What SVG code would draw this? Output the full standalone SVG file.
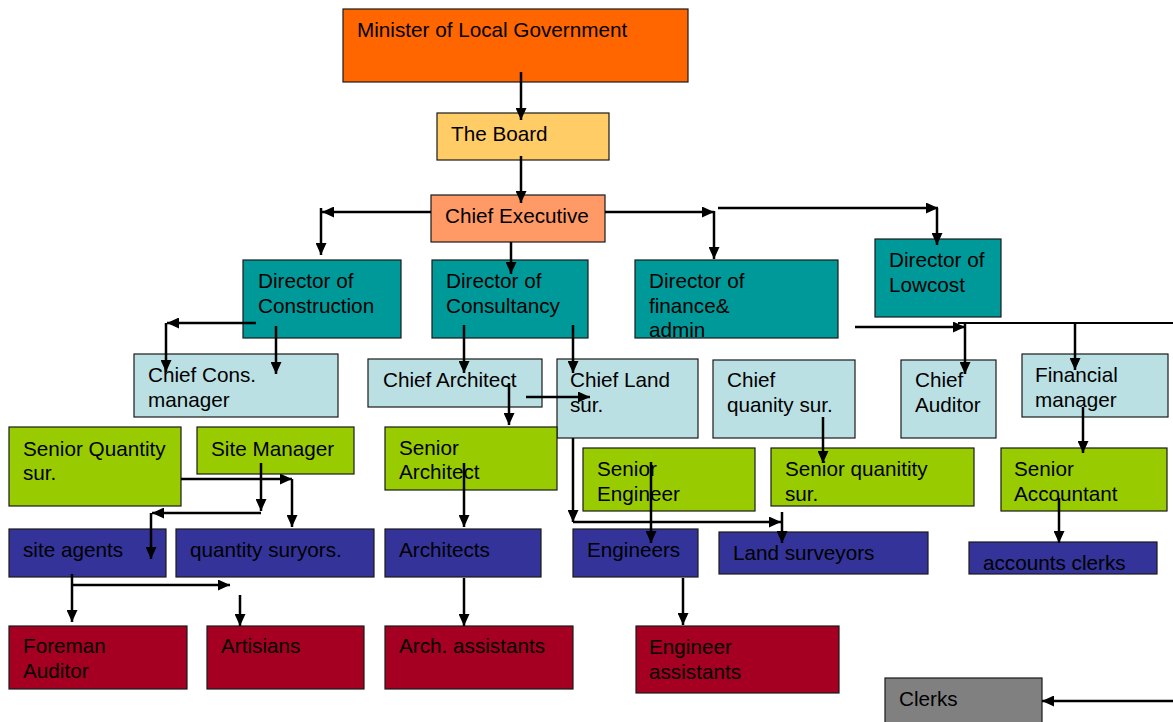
<svg xmlns="http://www.w3.org/2000/svg" width="1173" height="722" viewBox="0 0 1173 722">
<defs>
<style>
rect{stroke:#1a1a1a;stroke-width:1.2}
text{font-family:"Liberation Sans",Arial,sans-serif;font-size:20.7px;fill:#000}
.orange{fill:#FF6600}.board{fill:#FFCC66}.ce{fill:#FF9966}
.teal{fill:#009999}.light{fill:#BBE0E3}.lime{fill:#99CC00}
.blue{fill:#333399}.red{fill:#A50021}.gray{fill:#808080}
#connectors path{fill:none;stroke:#000;stroke-width:2.5;marker-end:url(#ah)}
#connectors path.plain{marker-end:none;stroke-width:2}
</style>
<marker id="ah" markerUnits="userSpaceOnUse" markerWidth="12" markerHeight="11" refX="12" refY="5.5" orient="auto">
<path d="M0,0 L12,5.5 L0,11 z" fill="#000"/>
</marker>
</defs>
<rect x="0" y="0" width="1173" height="722" fill="#fff" style="stroke:none"/>
<g id="nodes">
<g id="minister"><rect class="orange" x="343" y="9" width="345" height="73"/><text x="357" y="37">Minister of Local Government</text></g>
<g id="board"><rect class="board" x="437" y="113" width="172" height="47"/><text x="451" y="141">The Board</text></g>
<g id="chief-executive"><rect class="ce" x="431" y="195" width="174" height="47"/><text x="445" y="223">Chief Executive</text></g>
<g id="dir-construction"><rect class="teal" x="243" y="260" width="158" height="78"/><text x="258" y="288">Director of<tspan x="258" y="313">Construction</tspan></text></g>
<g id="dir-consultancy"><rect class="teal" x="432" y="260" width="156" height="78"/><text x="446" y="288">Director of<tspan x="446" y="313">Consultancy</tspan></text></g>
<g id="dir-finance"><rect class="teal" x="635" y="260" width="203" height="78"/><text x="649" y="288">Director of<tspan x="649" y="313">finance&amp;</tspan><tspan x="649" y="337">admin</tspan></text></g>
<g id="dir-lowcost"><rect class="teal" x="875" y="239" width="126" height="78"/><text x="889" y="267">Director of<tspan x="889" y="292">Lowcost</tspan></text></g>
<g id="chief-cons"><rect class="light" x="134" y="354" width="204" height="63"/><text x="148" y="382">Chief Cons.<tspan x="148" y="407">manager</tspan></text></g>
<g id="chief-architect"><rect class="light" x="368" y="359" width="174" height="48"/><text x="383" y="387">Chief Architect</text></g>
<g id="chief-land"><rect class="light" x="557" y="359" width="141" height="79"/><text x="570" y="387">Chief Land<tspan x="570" y="412">sur.</tspan></text></g>
<g id="chief-quanity"><rect class="light" x="713" y="360" width="142" height="78"/><text x="727" y="387">Chief<tspan x="727" y="412">quanity sur.</tspan></text></g>
<g id="chief-auditor"><rect class="light" x="901" y="360" width="95" height="78"/><text x="915" y="387">Chief<tspan x="915" y="412">Auditor</tspan></text></g>
<g id="financial-manager"><rect class="light" x="1022" y="354" width="146" height="63"/><text x="1035" y="382">Financial<tspan x="1035" y="407">manager</tspan></text></g>
<g id="senior-quantity"><rect class="lime" x="9" y="427" width="172" height="79"/><text x="23" y="456">Senior Quantity<tspan x="23" y="480">sur.</tspan></text></g>
<g id="site-manager"><rect class="lime" x="197" y="427" width="157" height="47"/><text x="211" y="456">Site Manager</text></g>
<g id="senior-architect"><rect class="lime" x="385" y="427" width="172" height="63"/><text x="399" y="455">Senior<tspan x="399" y="479">Architect</tspan></text></g>
<g id="senior-engineer"><rect class="lime" x="583" y="448" width="172" height="63"/><text x="597" y="476">Senior<tspan x="597" y="501">Engineer</tspan></text></g>
<g id="senior-quanitity"><rect class="lime" x="771" y="448" width="203" height="58"/><text x="785" y="476">Senior quanitity<tspan x="785" y="501">sur.</tspan></text></g>
<g id="senior-accountant"><rect class="lime" x="1001" y="448" width="166" height="63"/><text x="1014" y="476">Senior<tspan x="1014" y="501">Accountant</tspan></text></g>
<g id="site-agents"><rect class="blue" x="9" y="529" width="157" height="48"/><text x="23" y="557">site agents</text></g>
<g id="quantity-suryors"><rect class="blue" x="176" y="529" width="198" height="48"/><text x="190" y="557">quantity suryors.</text></g>
<g id="architects"><rect class="blue" x="385" y="529" width="156" height="48"/><text x="399" y="557">Architects</text></g>
<g id="engineers"><rect class="blue" x="573" y="529" width="125" height="48"/><text x="587" y="557">Engineers</text></g>
<g id="land-surveyors"><rect class="blue" x="719" y="532" width="209" height="42"/><text x="733" y="560">Land surveyors</text></g>
<g id="accounts-clerks"><rect class="blue" x="969" y="542" width="188" height="32"/><text x="983" y="570">accounts clerks</text></g>
<g id="foreman-auditor"><rect class="red" x="9" y="626" width="178" height="63"/><text x="23" y="653">Foreman<tspan x="23" y="678">Auditor</tspan></text></g>
<g id="artisians"><rect class="red" x="207" y="626" width="157" height="63"/><text x="221" y="653">Artisians</text></g>
<g id="arch-assistants"><rect class="red" x="385" y="626" width="188" height="63"/><text x="399" y="653">Arch. assistants</text></g>
<g id="engineer-assistants"><rect class="red" x="636" y="626" width="203" height="67"/><text x="649" y="654">Engineer<tspan x="649" y="679">assistants</tspan></text></g>
<g id="clerks"><rect class="gray" x="885" y="678" width="157" height="50"/><text x="899" y="706">Clerks</text></g>
</g>
<g id="connectors">
<path d="M521,72 V120"/>
<path d="M521,156 V203"/>
<path d="M431,212 H322"/>
<path d="M321,208 V255"/>
<path d="M511,242 V274"/>
<path d="M605,212 H714"/>
<path d="M714,211 V259"/>
<path d="M718,208 H938"/>
<path d="M937,208 V245"/>
<path d="M256,323 H167"/>
<path d="M166,323 V372"/>
<path d="M276,326 V374"/>
<path d="M464,325 V373"/>
<path d="M573,325 V373"/>
<path d="M509,383 V425"/>
<path d="M526,397 H590"/>
<path d="M181,479 H292"/>
<path d="M292,479 V527"/>
<path d="M261,463 V511"/>
<path d="M261,513 H152"/>
<path d="M151,513 V559"/>
<path d="M72,574 V622"/>
<path d="M72,585 H230"/>
<path d="M240,595 V626"/>
<path d="M464,463 V527"/>
<path d="M464,578 V626"/>
<path d="M573,438 V522"/>
<path d="M573,522 H781"/>
<path d="M782,512 V543"/>
<path d="M651,462 V543"/>
<path d="M683,578 V625"/>
<path d="M823,417 V463"/>
<path d="M855,327 H965"/>
<path class="plain" d="M958,323 H1173"/>
<path d="M965,323 V374"/>
<path d="M1075,323 V370"/>
<path d="M1083,407 V453"/>
<path d="M1059,498 V543"/>
<path d="M1173,701 H1042"/>
</g>
</svg>
